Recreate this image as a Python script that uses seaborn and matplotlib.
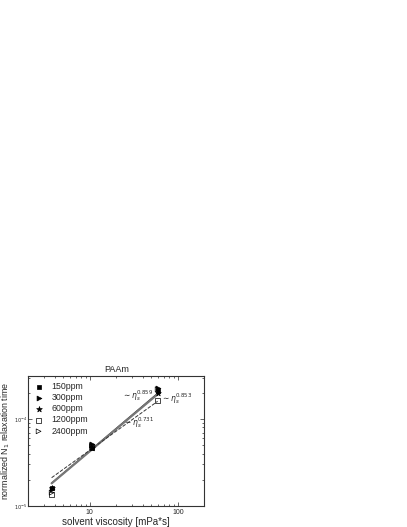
import matplotlib
matplotlib.use("Agg")
import matplotlib.pyplot as plt
import matplotlib.ticker as mticker
import numpy as np
import pandas as pd
import seaborn as sns

sns.set_theme(style="ticks")
plt.rcParams["font.family"] = ["Liberation Sans", "DejaVu Sans"]

# solvent viscosity [mPa*s] for the three solvents
viscosity = [3.7, 10.6, 59.0]

# normalized N1 relaxation time per polymer concentration
tau_150 = [1.6e-5, 4.7e-5, 2.1e-4]
tau_300 = [1.55e-5, 5.1e-5, 2.25e-4]
tau_600 = [1.6e-5, 4.6e-5, 2.0e-4]
tau_1200 = [1.35e-5, 4.8e-5, 1.62e-4]
tau_2400 = [1.42e-5, 5.0e-5, 2.2e-4]

series_names = ["150ppm", "300ppm", "600ppm", "1200ppm", "2400ppm"]

# power-law fits: exponent, value at the largest viscosity
fit_exponents = [0.859, 0.853, 0.731]
fit_end_values = [1.97e-4, 1.93e-4, 1.6e-4]
fit_labels = [r"$\sim\eta_s^{0.859}$", r"$\sim\eta_s^{0.853}$", r"$\sim\eta_s^{0.731}$"]

rows = []
for name, vals in zip(series_names, [tau_150, tau_300, tau_600, tau_1200, tau_2400]):
    for v, t in zip(viscosity, vals):
        rows.append({"series": name, "viscosity": v, "tau": t})
df = pd.DataFrame(rows)

fig = plt.figure(figsize=(4.07, 5.27), dpi=100)
ax = fig.add_axes([0.069, 0.040, 0.433, 0.247])

ax.set_xscale("log")
ax.set_yscale("log")

# fit lines
x_fit = np.array([viscosity[0], viscosity[-1]])
line_styles = [("-", "#222222", 1.0), ("-", "#777777", 1.6), ("--", "#333333", 0.7)]
for b, yend, (ls, col, lw) in zip(fit_exponents, fit_end_values, line_styles):
    y_fit = yend * (x_fit / x_fit[-1]) ** b
    sns.lineplot(x=x_fit, y=y_fit, ax=ax, color=col, linestyle=ls, linewidth=lw)

marker_styles = {
    "150ppm": ("s", "black"),
    "300ppm": (">", "black"),
    "600ppm": ("*", "black"),
    "1200ppm": ("s", "none"),
    "2400ppm": (">", "none"),
}
for name in series_names:
    sub = df[df["series"] == name]
    m, fc = marker_styles[name]
    ax.scatter(sub["viscosity"], sub["tau"], marker=m, s=12 if m != "*" else 18,
               facecolors=fc, edgecolors="black", linewidths=0.5, label=name, zorder=3)

ax.set_xlim(2, 200)
ax.set_ylim(1e-5, 3.15e-4)

ax.xaxis.set_major_locator(mticker.FixedLocator([10, 100]))
ax.xaxis.set_major_formatter(mticker.FixedFormatter(["10", "100"]))
ax.xaxis.set_minor_locator(mticker.LogLocator(base=10, subs=np.arange(2, 10)))
ax.xaxis.set_minor_formatter(mticker.NullFormatter())
ax.yaxis.set_major_locator(mticker.FixedLocator([1e-5, 1e-4]))
ax.yaxis.set_major_formatter(mticker.FixedFormatter([r"$10^{-5}$", r"$10^{-4}$"]))
ax.yaxis.set_minor_locator(mticker.LogLocator(base=10, subs=np.arange(2, 10)))
ax.yaxis.set_minor_formatter(mticker.NullFormatter())

ax.tick_params(which="both", direction="in", top=True, right=True, width=0.5,
               labelsize=5, pad=2)
ax.tick_params(axis="y", labelsize=3.6, pad=0.8)
ax.tick_params(which="major", length=3)
ax.tick_params(which="minor", length=1.5)
for sp in ax.spines.values():
    sp.set_linewidth(0.8)
    sp.set_color("#333333")

ax.text(53, 1.85e-4, fit_labels[0], fontsize=5.5, ha="right", va="center")
ax.text(64, 1.72e-4, fit_labels[1], fontsize=5.5, ha="left", va="center")
ax.text(54, 9.2e-5, fit_labels[2], fontsize=5.5, ha="right", va="center")

ax.set_title("PAAm", fontsize=6.5, pad=3)
ax.set_xlabel("solvent viscosity [mPa*s]", fontsize=7, labelpad=1)
ax.set_ylabel("normalized N$_1$ relaxation time", fontsize=6.4)
ax.yaxis.set_label_coords(-0.09, 0.5)

ax.legend(loc="upper left", fontsize=6.3, frameon=False, handletextpad=1.0,
          labelspacing=0.25, borderaxespad=0.4, handlelength=1, borderpad=0.3)

fig.savefig("out.png", dpi=100)
plt.close(fig)
